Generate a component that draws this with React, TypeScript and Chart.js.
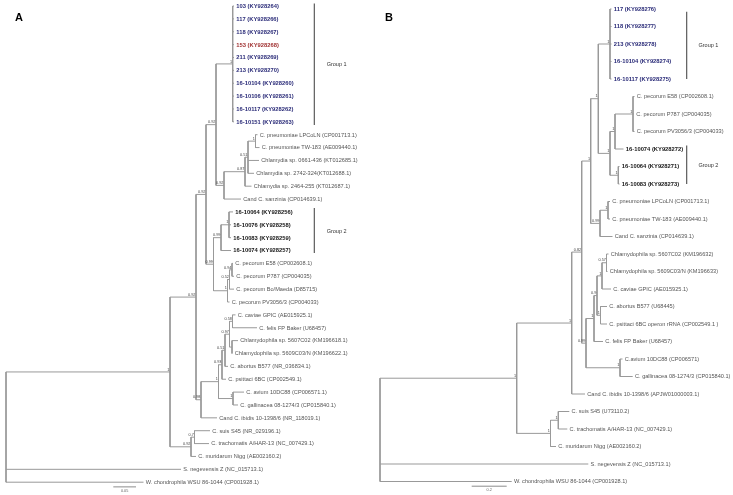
import React, { useEffect, useRef } from "react";
import { Chart, registerables } from "chart.js";

Chart.register(...registerables);

const FONT = '"Liberation Sans", Arial, sans-serif';
const H = 495;

// ---------------- Panel A data ----------------
const leavesA = [
  "103 (KY928264)", "117 (KY928266)", "118 (KY928267)", "153 (KY928268)", "211 (KY928269)",
  "213 (KY928270)", "16-10104 (KY928260)", "16-10106 (KY928261)", "16-10117 (KY928262)", "16-10151 (KY928263)",
  "C. pneumoniae LPCoLN (CP001713.1)", "C. pneumoniae TW-183 (AE009440.1)",
  "Chlamydia sp. 0661-436 (KT012685.1)", "Chlamydia sp. 2742-324(KT012688.1)", "Chlamydia sp. 2464-255 (KT012687.1)",
  "Cand C. sanzinia (CP014639.1)",
  "16-10064 (KY928256)", "16-10076 (KY928258)", "16-10083 (KY928259)", "16-10074 (KY928257)",
  "C. pecorum E58 (CP002608.1)", "C. pecorum P787 (CP004035)", "C. pecorum Bo/Maeda (D85715)", "C. pecorum PV3056/3 (CP004033)",
  "C. caviae GPIC (AE015925.1)", "C. felis FP Baker (U68457)",
  "Chlamydophila sp. 5607C02 (KM196618.1)", "Chlamydophila sp. 5609C03/N (KM196622.1)",
  "C. abortus B577 (NR_036834.1)", "C. psittaci 6BC (CP002549.1)",
  "C. avium 10DC88 (CP006571.1)", "C. gallinacea 08-1274/3 (CP015840.1)",
  "Cand C. ibidis 10-1398/6 (NR_118019.1)",
  "C. suis S45 (NR_029196.1)", "C. trachomatis A/HAR-13 (NC_007429.1)", "C. muridarum Nigg (AE002160.2)",
  "S. negevensis Z (NC_015713.1)", "W. chondrophila WSU 86-1044 (CP001928.1)",
];
const leafStyleA = [
  "g1", "g1", "g1", "red", "g1", "g1", "g1", "g1", "g1", "g1",
  "", "", "", "", "", "",
  "g2", "g2", "g2", "g2",
  "", "", "", "", "", "", "", "", "", "", "", "", "", "", "", "", "", "",
];
// Newick-like clades; number after ':' = distance from root (tree units), text after ')' = support
const cladeG1A = "(0:228,1:228,2:228,3:228,4:228,5:228,6:228,7:228,8:228,9:228)1:226.7";
const cladePneuA = "((((10:251.5,11:253.5)1:249.5,12:253,13:248)0.51:242,14:245.5)0.87:239,15:235)0.92:218";
const cladeG2A = "((16:227,17:225,18:225)1:223,19:225)0.99:215";
const cladePecA = "(((20:227,21:228)0.94:226,22:228)0.52:223.5,23:223.5)1:221.5";
const cladePsitA = "((((((24:229.5,25:251)0.58:226.5,(26:232,27:226.5):226)0.97:223.5,28:222)0.51:219,29:220)0.93:216,(30:238,31:232)1:227)1:212.5,32:211)0.98:195";
const cladeTrachA = "((33:204,34:203)0.7:188.5,35:190)0.92:185";
const treeA = `(((((${cladeG1A},${cladePneuA})0.92:210,(${cladeG2A},${cladePecA})0.99:207.5)0.92:200,${cladePsitA})0.92:190,${cladeTrachA})1:164,36:175,37:137.5):0`;
const groupsA = ["Group 1", "Group 2"];
const groupSpanA = [[-0.2, 9.25], [15.7, 19.2]];
const groupBarDepthA = 308.3;
const groupLabelDepthA = 320.7;
const scaleBarA = [107.3, 22.7]; // start, length (tree units)
const scaleLabelA = "0.05";

// ---------------- Panel B data ----------------
const leavesB = [
  "117 (KY928276)", "118 (KY928277)", "213 (KY928278)", "16-10104 (KY928274)", "16-10117 (KY928275)",
  "C. pecorum E58 (CP002608.1)", "C. pecorum P787 (CP004035)", "C. pecorum PV3056/3 (CP004033)",
  "16-10074 (KY928272)", "16-10064 (KY928271)", "16-10083 (KY928273)",
  "C. pneumoniae LPCoLN (CP001713.1)", "C. pneumoniae TW-183 (AE009440.1)", "Cand C. sanzinia (CP014639.1)",
  "Chlamydophila sp. 5607C02 (KM196632)", "Chlamydophila sp. 5609C03/N (KM196633)", "C. caviae GPIC (AE015925.1)",
  "C. abortus B577 (U68445)", "C. psittaci 6BC operon rRNA (CP002549.1 )", "C. felis FP Baker (U68457)",
  "C.avium 10DC88 (CP006571)", "C. gallinacea 08-1274/3 (CP015840.1)",
  "Cand C. ibidis 10-1398/6 (APJW01000003.1)",
  "C. suis S45 (U73110.2)", "C. trachomatis A/HAR-13 (NC_007429.1)", "C. muridarum Nigg (AE002160.2)",
  "S. negevensis Z (NC_015713.1)", "W. chondrophila WSU 86-1044 (CP001928.1)",
];
const leafStyleB = [
  "g1", "g1", "g1", "g1", "g1", "", "", "", "g2", "g2", "g2",
  "", "", "", "", "", "", "", "", "", "", "", "", "", "", "", "", "",
];
const cladeG1B = "(0:231.5,1:231.5,2:231.5,3:231.5,4:231.5)1:230";
const cladeG2B = "(((5:254.5,6:254,7:254.5)1:253,8:243.5)1:235,(9:239.5,10:239.5)1:238.3)1:230";
const cladePneuB = "((11:230,12:230)1:228,13:232.5)0.99:220";
const cladePsitB = "(((((14:228.5,15:227.5)0.57:226.5,16:231)1:222,(17:227,18:227)1:220.5)0.9:217,19:223)1:214,(20:242.5,21:252.7)1:240)0.99:206";
const cladeTrachB = "((23:189.3,24:187.3)1:178.3,25:176)1:170.5";
const treeB = `((((((${cladeG1B},${cladeG2B})1:218.3,${cladePneuB})1:210.7,${cladePsitB})0.82:201.7,22:205)1:191.7,${cladeTrachB})1:136.7,26:208.3,27:131.7):0`;
const groupsB = ["Group 1", "Group 2"];
const groupSpanB = [[0.15, 4.0], [7.8, 10.0]];
const groupBarDepthB = 306.7;
const groupLabelDepthB = 318.5;
const scaleBarB = [91.7, 35];
const scaleLabelB = "0.2";

type TNode = { children: TNode[]; leaf: number; depth: number; label: string; y: number };

function parseTree(s: string): TNode {
  let i = 0;
  const num = () => {
    let t = "";
    while (i < s.length && /[0-9.]/.test(s[i])) t += s[i++];
    return t;
  };
  const node = (): TNode => {
    const n: TNode = { children: [], leaf: -1, depth: 0, label: "", y: 0 };
    if (s[i] === "(") {
      i++;
      n.children.push(node());
      while (s[i] === ",") {
        i++;
        n.children.push(node());
      }
      i++;
      n.label = num();
    } else {
      n.leaf = parseInt(num(), 10);
    }
    if (s[i] === ":") {
      i++;
      n.depth = parseFloat(num());
    }
    return n;
  };
  return node();
}

function layout(n: TNode) {
  if (n.leaf >= 0) {
    n.y = n.leaf;
    return;
  }
  n.children.forEach(layout);
  n.y = (n.children[0].y + n.children[n.children.length - 1].y) / 2;
}

const GAP = { x: NaN, y: NaN };

function collect(n: TNode, segs: any[], internal: TNode[], tips: number[]) {
  if (n.leaf >= 0) {
    tips[n.leaf] = n.depth;
    return;
  }
  internal.push(n);
  const f = n.children[0];
  const l = n.children[n.children.length - 1];
  segs.push({ x: n.depth, y: f.y }, { x: n.depth, y: l.y }, GAP);
  for (const c of n.children) {
    segs.push({ x: n.depth, y: c.y }, { x: c.depth, y: c.y }, GAP);
    collect(c, segs, internal, tips);
  }
}

type Spec = {
  letter: string;
  letterX: number;
  width: number;
  tree: string;
  leaves: string[];
  styles: string[];
  groups: string[];
  spans: number[][];
  barDepth: number;
  labelDepth: number;
  scaleBar: number[];
  scaleLabel: string;
  xMin: number;
  yFirst: number;
  yStep: number;
};

const STYLE: Record<string, { font: string; color: string }> = {
  g1: { font: `bold 5.8px ${FONT}`, color: "#2a2b78" },
  red: { font: `bold 5.8px ${FONT}`, color: "#a03232" },
  g2: { font: `bold 5.8px ${FONT}`, color: "#151515" },
  "": { font: `5.6px ${FONT}`, color: "#555555" },
};

function TreePanel({ spec }: { spec: Spec }) {
  const ref = useRef<HTMLCanvasElement>(null);
  useEffect(() => {
    const root = parseTree(spec.tree);
    layout(root);
    const segs: any[] = [];
    const internal: TNode[] = [];
    const tips: number[] = [];
    collect(root, segs, internal, tips);

    const groupPts: any[] = [];
    spec.spans.forEach((s) => {
      groupPts.push({ x: spec.barDepth, y: s[0] }, { x: spec.barDepth, y: s[1] }, GAP);
    });
    const nLeaf = spec.leaves.length;
    const scaleY = nLeaf - 1 + 4.7 / spec.yStep;
    const scalePts = [
      { x: spec.scaleBar[0], y: scaleY },
      { x: spec.scaleBar[0] + spec.scaleBar[1], y: scaleY },
    ];

    const textPlugin = {
      id: "treeText",
      afterDatasetsDraw(chart: any) {
        const ctx = chart.ctx as CanvasRenderingContext2D;
        const xs = chart.scales.x;
        const ys = chart.scales.y;
        ctx.save();
        // leaf names
        ctx.textAlign = "left";
        ctx.textBaseline = "middle";
        spec.leaves.forEach((name, i) => {
          const st = STYLE[spec.styles[i] || ""];
          ctx.font = st.font;
          ctx.fillStyle = st.color;
          ctx.fillText(name, xs.getPixelForValue(tips[i]) + 2.3, ys.getPixelForValue(i) + 0.3);
        });
        // support values
        ctx.font = `3.8px ${FONT}`;
        ctx.fillStyle = "#444";
        ctx.textAlign = "right";
        ctx.textBaseline = "alphabetic";
        internal.forEach((n) => {
          if (!n.label || n === root) return;
          ctx.fillText(n.label, xs.getPixelForValue(n.depth) - 0.6, ys.getPixelForValue(n.y) - 1.3);
        });
        // group labels
        ctx.font = `5.5px ${FONT}`;
        ctx.fillStyle = "#333";
        ctx.textAlign = "left";
        ctx.textBaseline = "middle";
        spec.groups.forEach((g, k) => {
          const mid = (spec.spans[k][0] + spec.spans[k][1]) / 2;
          ctx.fillText(g, xs.getPixelForValue(spec.labelDepth), ys.getPixelForValue(mid) + 0.5);
        });
        // scale bar label
        ctx.font = `3.8px ${FONT}`;
        ctx.fillStyle = "#666";
        ctx.textAlign = "center";
        ctx.textBaseline = "top";
        ctx.fillText(
          spec.scaleLabel,
          xs.getPixelForValue(spec.scaleBar[0] + spec.scaleBar[1] / 2),
          ys.getPixelForValue(scaleY) + 2.2
        );
        // panel letter
        ctx.font = `bold 11px ${FONT}`;
        ctx.fillStyle = "#000";
        ctx.textAlign = "left";
        ctx.textBaseline = "alphabetic";
        ctx.fillText(spec.letter, chart.chartArea.left + spec.letterX, 20.5);
        ctx.restore();
      },
    };

    const chart = new Chart(ref.current as HTMLCanvasElement, {
      type: "scatter",
      data: {
        datasets: [
          {
            data: segs,
            showLine: true,
            borderColor: "#999999",
            borderWidth: 1,
            pointRadius: 0,
            spanGaps: false,
          } as any,
          {
            data: groupPts,
            showLine: true,
            borderColor: "#4d4d4d",
            borderWidth: 1.1,
            pointRadius: 0,
            spanGaps: false,
          } as any,
          {
            data: scalePts,
            showLine: true,
            borderColor: "#8c8c8c",
            borderWidth: 1,
            pointRadius: 0,
          } as any,
        ],
      },
      options: {
        responsive: false,
        animation: false,
        devicePixelRatio: 1,
        events: [],
        layout: { padding: 0 },
        plugins: { legend: { display: false }, tooltip: { enabled: false }, title: { display: false } },
        scales: {
          x: { type: "linear", display: false, min: spec.xMin, max: spec.xMin + spec.width },
          y: {
            type: "linear",
            display: false,
            reverse: true,
            min: -spec.yFirst / spec.yStep,
            max: (H - spec.yFirst) / spec.yStep,
          },
        },
      },
      plugins: [textPlugin],
    });
    return () => chart.destroy();
  }, [spec]);
  return <canvas ref={ref} width={spec.width} height={H} style={{ display: "block" }} />;
}

const specA: Spec = {
  letter: "A",
  letterX: 15,
  width: 366,
  tree: treeA,
  leaves: leavesA,
  styles: leafStyleA,
  groups: groupsA,
  spans: groupSpanA,
  barDepth: groupBarDepthA,
  labelDepth: groupLabelDepthA,
  scaleBar: scaleBarA,
  scaleLabel: scaleLabelA,
  xMin: -6,
  yFirst: 6,
  yStep: 12.87,
};

const specB: Spec = {
  letter: "B",
  letterX: 19,
  width: 367,
  tree: treeB,
  leaves: leavesB,
  styles: leafStyleB,
  groups: groupsB,
  spans: groupSpanB,
  barDepth: groupBarDepthB,
  labelDepth: groupLabelDepthB,
  scaleBar: scaleBarB,
  scaleLabel: scaleLabelB,
  xMin: -14,
  yFirst: 9,
  yStep: 17.5,
};

export default function App() {
  return (
    <div
      style={{
        position: "absolute",
        left: 0,
        top: 0,
        width: 733,
        height: H,
        display: "flex",
        background: "#fff",
      }}
    >
      <TreePanel spec={specA} />
      <TreePanel spec={specB} />
    </div>
  );
}
